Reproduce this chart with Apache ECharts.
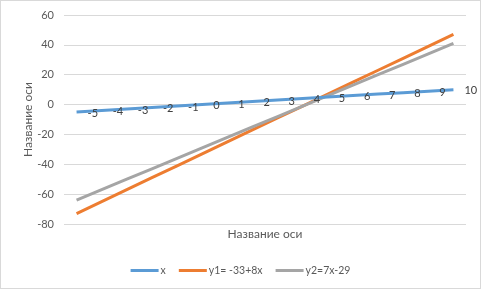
<!DOCTYPE html>
<html><head><meta charset="utf-8">
<script src="https://cdn.jsdelivr.net/npm/echarts@6/dist/echarts.min.js"></script>
<style>html,body{margin:0;padding:0;background:#fff}#c{width:479px;height:287px;border:1px solid #d9d9d9}</style>
</head><body><div id="c"></div>
<script>
const categories = ['-5','-4','-3','-2','-1','0','1','2','3','4','5','6','7','8','9','10'];
const seriesX = [-5,-4,-3,-2,-1,0,1,2,3,4,5,6,7,8,9,10];
const seriesY1 = [-73,-65,-57,-49,-41,-33,-25,-17,-9,-1,7,15,23,31,39,47];
const seriesY2 = [-64,-57,-50,-43,-36,-29,-22,-15,-8,-1,6,13,20,27,34,41];
const yTicks = {min:-80, max:60, interval:20};
const names = ['x','y1= -33+8x','y2=7x-29'];
const axisTitle = 'Название оси';

const FONT = 'Lato, "Open Sans", sans-serif';
const chart = echarts.init(document.getElementById('c'));
chart.setOption({
  animation:false,
  textStyle:{fontFamily:FONT},
  color:['#5b9bd5','#ed7d31','#a5a5a5'],
  grid:{left:63, right:14, top:14, bottom:64},
  legend:{
    bottom:7, left:'center', itemWidth:28, itemHeight:3, itemGap:13, icon:'rect',
    textStyle:{color:'#595959', fontSize:10.5, fontFamily:FONT, padding:[0,0,0,-3]},
    data:names
  },
  xAxis:{
    type:'category', data:categories, boundaryGap:true,
    axisLine:{show:false}, axisTick:{show:false}, axisLabel:{show:false},
    name:axisTitle, nameLocation:'middle', nameGap:4,
    nameTextStyle:{color:'#595959', fontSize:12, fontFamily:FONT, verticalAlign:'top'}
  },
  yAxis:{
    type:'value', min:yTicks.min, max:yTicks.max, interval:yTicks.interval,
    axisLine:{show:false}, axisTick:{show:false},
    axisLabel:{color:'#595959', fontSize:11, margin:10, fontFamily:FONT},
    splitLine:{lineStyle:{color:'#d9d9d9', width:1}},
    name:axisTitle, nameLocation:'middle', nameGap:36, nameMoveOverlap:false,
    nameTextStyle:{color:'#595959', fontSize:12, fontFamily:FONT, verticalAlign:'middle'}
  },
  series:[
    {name:names[0], type:'line', data:seriesX, symbol:'circle', symbolSize:0, showSymbol:true,
     lineStyle:{width:3}, z:3,
     label:{show:true, position:'right', distance:11, color:'#404040', fontSize:11, fontFamily:FONT, offset:[0,1],
       formatter:p=>categories[p.dataIndex]}},
    {name:names[1], type:'line', data:seriesY1, symbol:'none', lineStyle:{width:3}, z:2},
    {name:names[2], type:'line', data:seriesY2, symbol:'none', lineStyle:{width:3}, z:2}
  ]
});
</script></body></html>
